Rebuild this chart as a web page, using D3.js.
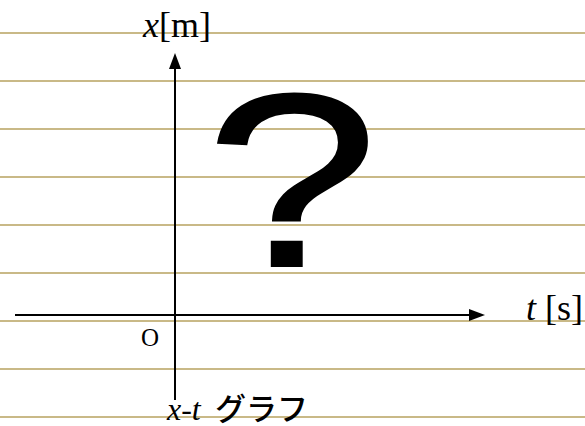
<!DOCTYPE html>
<html>
<head>
<meta charset="utf-8">
<script src="https://cdn.jsdelivr.net/npm/d3@7"></script>
<style>
  html, body { margin: 0; padding: 0; background: #ffffff; }
  svg { display: block; }
</style>
</head>
<body>
<svg id="chart" width="585" height="426"></svg>
<script>
// Ruled notebook rows (row index, top to bottom)
const ruleRows = [0, 1, 2, 3, 4, 5, 6, 7, 8];

// Axis extents in plot units (origin at 0)
const tExtent = [-16, 31];
const xExtent = [-8.5, 26.2];

// Axis titles: [italic symbol, unit]
const xTitle = ["x", "[m]"];
const tTitle = ["t", " [s]"];
const originLabel = ["O"];
const captionParts = ["x-t", "グラフ"];
const unknownMark = ["?"];

const W = 585, H = 426;
const svg = d3.select("#chart");

svg.append("rect").attr("width", W).attr("height", H).attr("fill", "#ffffff");

// Scales
const rowY = d3.scaleLinear().domain([0, 8]).range([33, 417]);
const tScale = d3.scaleLinear().domain(tExtent).range([15, 485]);
const xScale = d3.scaleLinear().domain(xExtent).range([400, 53]);

// Ruled lines
svg.append("g")
  .selectAll("line")
  .data(ruleRows)
  .join("line")
  .attr("x1", 0).attr("x2", W)
  .attr("y1", d => rowY(d)).attr("y2", d => rowY(d))
  .attr("stroke", "#c9b987")
  .attr("stroke-width", 2);

// Big question mark fitted into its box using glyph ink metrics
const qBox = { x0: 218, x1: 367, y0: 93, y1: 266 };
(function drawQuestion() {
  const fontSpec = "200px 'Liberation Sans', Arial, sans-serif";
  const ctx = document.createElement("canvas").getContext("2d");
  ctx.font = fontSpec;
  const m = ctx.measureText(unknownMark[0]);
  const inkW = m.actualBoundingBoxLeft + m.actualBoundingBoxRight;
  const inkH = m.actualBoundingBoxAscent + m.actualBoundingBoxDescent;
  const sx = (qBox.x1 - qBox.x0) / inkW;
  const sy = (qBox.y1 - qBox.y0) / inkH;
  const tx = qBox.x0 + m.actualBoundingBoxLeft * sx;
  const ty = qBox.y0 + m.actualBoundingBoxAscent * sy;
  svg.append("text")
    .attr("transform", `translate(${tx},${ty}) scale(${sx},${sy})`)
    .attr("font-family", "'Liberation Sans', Arial, sans-serif")
    .attr("font-size", 200)
    .attr("fill", "#000")
    .attr("stroke", "#000")
    .attr("stroke-width", 1.5)
    .text(unknownMark[0]);
})();

// Axes
const axes = svg.append("g").attr("stroke", "#000").attr("fill", "#000");
const y0 = xScale(0), x0 = tScale(0);
const arrowLen = 16, arrowHalf = 6;

// horizontal t axis
axes.append("line")
  .attr("x1", tScale(tExtent[0])).attr("x2", tScale(tExtent[1]) - arrowLen + 1)
  .attr("y1", y0).attr("y2", y0)
  .attr("stroke-width", 2);
axes.append("path")
  .attr("stroke", "none")
  .attr("d", () => {
    const tip = tScale(tExtent[1]);
    return `M${tip},${y0} L${tip - arrowLen},${y0 - arrowHalf} L${tip - arrowLen},${y0 + arrowHalf} Z`;
  });

// vertical x axis
axes.append("line")
  .attr("x1", x0).attr("x2", x0)
  .attr("y1", xScale(xExtent[0])).attr("y2", xScale(xExtent[1]) + arrowLen - 1)
  .attr("stroke-width", 2);
axes.append("path")
  .attr("stroke", "none")
  .attr("d", () => {
    const tip = xScale(xExtent[1]);
    return `M${x0},${tip} L${x0 - arrowHalf},${tip + arrowLen} L${x0 + arrowHalf},${tip + arrowLen} Z`;
  });

// Labels
const serif = "'Liberation Serif', 'Times New Roman', serif";

const xt = svg.append("text")
  .attr("x", 143).attr("y", 37)
  .attr("font-family", serif).attr("font-size", 36).attr("fill", "#000");
xt.append("tspan").attr("font-style", "italic").text(xTitle[0]);
xt.append("tspan").text(xTitle[1]);

const tt = svg.append("text")
  .attr("x", 526).attr("y", 320)
  .attr("font-family", serif).attr("font-size", 36).attr("fill", "#000")
  .attr("xml:space", "preserve");
tt.append("tspan").attr("font-style", "italic").text(tTitle[0]);
tt.append("tspan").text(tTitle[1]);

svg.append("text")
  .attr("x", 141).attr("y", 346)
  .attr("font-family", serif).attr("font-size", 25).attr("fill", "#000")
  .text(originLabel[0]);

// Caption under the plot
const cap = svg.append("text")
  .attr("x", 167).attr("y", 420)
  .attr("fill", "#000");
cap.append("tspan")
  .attr("font-family", serif).attr("font-style", "italic").attr("font-size", 32)
  .text(captionParts[0]);
cap.append("tspan")
  .attr("x", 215)
  .attr("font-family", "'Noto Sans CJK JP', sans-serif")
  .attr("font-weight", 500)
  .attr("font-size", 31)
  .text(captionParts[1]);
</script>
</body>
</html>
